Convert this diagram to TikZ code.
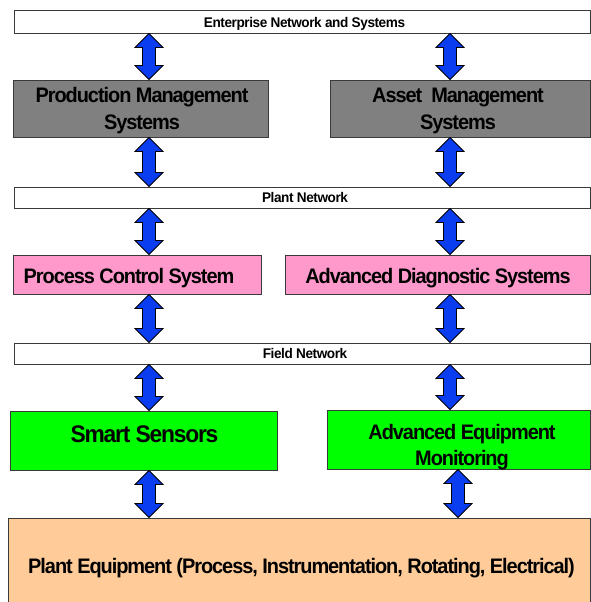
\documentclass[tikz,border=0pt]{standalone}
\usepackage{fontspec}
\usetikzlibrary{calc}
\newfontfamily\boxfont{Liberation Sans}[FakeStretch=0.95, LetterSpace=-5]
\newfontfamily\barfont{Liberation Sans}[FakeStretch=0.97, LetterSpace=-3]
\definecolor{layergray}{HTML}{808080}
\definecolor{layerpink}{HTML}{FF99CC}
\definecolor{layergreen}{HTML}{00FF00}
\definecolor{layerorange}{HTML}{FFCC99}
\definecolor{linkblue}{RGB}{10,60,240}
\definecolor{edge}{HTML}{3A3A3A}

% vertical two-headed link: x position, upper end, lower end
\newcommand\vlink[3]{%
  \draw[link] let \p1=(#2), \p2=(#3) in
    (#1pt,\y1) -- (#1pt+14pt,\y1-14pt) -- (#1pt+6.5pt,\y1-14pt)
    -- (#1pt+6.5pt,\y2+14pt) -- (#1pt+14pt,\y2+14pt) -- (#1pt,\y2)
    -- (#1pt-14pt,\y2+14pt) -- (#1pt-6.5pt,\y2+14pt)
    -- (#1pt-6.5pt,\y1-14pt) -- (#1pt-14pt,\y1-14pt) -- cycle;}

\begin{document}
\begin{tikzpicture}[x=1pt,y=-1pt,
  layer/.style={draw=edge, line width=0.9pt, inner sep=0pt},
  barlabel/.style={inner sep=0pt, anchor=base, font=\barfont\bfseries\fontsize{14}{17}\selectfont},
  boxlabel/.style={inner sep=0pt, align=center, font=\boxfont\bfseries\fontsize{21}{27}\selectfont},
  link/.style={draw=black, line width=0.8pt, fill=linkblue, line join=miter}]
\useasboundingbox (0,0) rectangle (591,602);

% network bars
\node[layer, fill=white, minimum width=576, minimum height=23] (ent) at (302,21.5) {};
\node[layer, fill=white, minimum width=576, minimum height=21] (plantnet) at (302,197.5) {};
\node[layer, fill=white, minimum width=576, minimum height=21] (fieldnet) at (302,353.5) {};

% system boxes
\node[layer, fill=layergray, minimum width=255, minimum height=57] (pms) at (141,108.5) {};
\node[layer, fill=layergray, minimum width=260, minimum height=57] (ams) at (460,108.5) {};
\node[layer, fill=layerpink, minimum width=248, minimum height=39] (pcs) at (137,274.5) {};
\node[layer, fill=layerpink, minimum width=305, minimum height=39] (ads) at (437.5,274.5) {};
\node[layer, fill=layergreen, minimum width=267, minimum height=59] (ss) at (143.5,440.5) {};
\node[layer, fill=layergreen, minimum width=263, minimum height=59] (aem) at (458.5,439.5) {};
\node[layer, fill=layerorange, minimum width=582, minimum height=92] (eq) at (299,564) {};

% texts
\node[barlabel] (enttext) at (304.5,27.7) {Enterprise Network and Systems};
\node[barlabel] (planttext) at (305,202.3) {Plant Network};
\node[barlabel] (fieldtext) at (305,358.5) {Field Network};

\node[boxlabel, anchor=north] (pmstext) at (142,87.5) {Production Management\\Systems};
\node[boxlabel, anchor=north] (amstext) at (458,87.5) {Asset\ \ Management\\Systems};
\node[boxlabel, anchor=base] (pcstext) at (129,283) {Process Control System};
\node[boxlabel, anchor=base] (adstext) at (438,283) {Advanced Diagnostic Systems};
\node[boxlabel, anchor=base, font=\boxfont\bfseries\fontsize{24}{29}\selectfont] (sstext) at (144.5,442.7) {Smart Sensors};
\node[boxlabel, anchor=north, font=\boxfont\bfseries\fontsize{21}{26}\selectfont] (aemtext) at (462,424.5) {Advanced Equipment\\Monitoring};
\node[boxlabel, anchor=base] (eqtext) at (301.5,573) {Plant Equipment (Process, Instrumentation, Rotating, Electrical)};

% links between the layers
\vlink{149}{ent.south}{pms.north}
\vlink{450}{ent.south}{ams.north}
\vlink{149}{pms.south}{plantnet.north}
\vlink{450}{ams.south}{plantnet.north}
\vlink{149}{plantnet.south}{pcs.north}
\vlink{450}{plantnet.south}{ads.north}
\vlink{149}{pcs.south}{fieldnet.north}
\vlink{450}{ads.south}{fieldnet.north}
\vlink{149}{fieldnet.south}{ss.north}
\vlink{450}{fieldnet.south}{aem.north}
\vlink{149}{ss.south}{eq.north}
\vlink{458}{aem.south}{eq.north}
\end{tikzpicture}
\end{document}
